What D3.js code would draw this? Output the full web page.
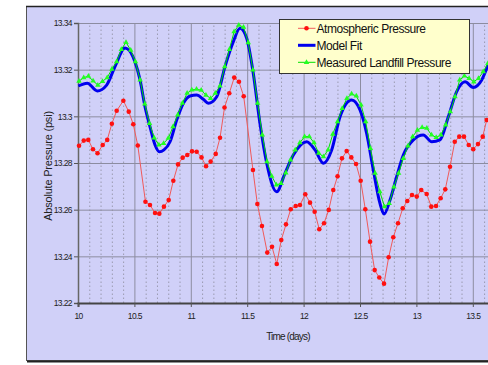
<!DOCTYPE html>
<html>
<head>
<meta charset="utf-8">
<script src="https://cdn.jsdelivr.net/npm/d3@7"></script>
<style>
  html, body { margin: 0; padding: 0; background: #fff; }
  svg { display: block; font-family: Arial, 'Liberation Sans', sans-serif; }
</style>
</head>
<body>
<div id="container"></div>
<script>
// Atmospheric pressure (red), time in days
const atmTime = [10.009, 10.051, 10.091, 10.133, 10.173, 10.219, 10.259, 10.300, 10.343, 10.402, 10.450, 10.490,
  10.530, 10.598, 10.638, 10.683, 10.721, 10.762, 10.804, 10.845, 10.887, 10.928, 10.969, 11.011, 11.052, 11.095,
  11.135, 11.176, 11.221, 11.259, 11.299, 11.341, 11.385, 11.427, 11.469, 11.551, 11.590, 11.631, 11.678, 11.720,
  11.762, 11.802, 11.844, 11.886, 11.930, 11.968, 12.015, 12.057, 12.098, 12.139, 12.181, 12.223, 12.263, 12.301,
  12.340, 12.382, 12.423, 12.465, 12.506, 12.547, 12.589, 12.630, 12.671, 12.713, 12.754, 12.795, 12.837, 12.879,
  12.919, 12.961, 13.003, 13.043, 13.091, 13.132, 13.174, 13.215, 13.256, 13.298, 13.340, 13.380, 13.422, 13.464,
  13.504, 13.546, 13.588, 13.623];
const atmPressure = [13.2874, 13.2896, 13.2899, 13.2859, 13.2842, 13.2877, 13.2899, 13.2968, 13.3024, 13.3067,
  13.3020, 13.2966, 13.2875, 13.2634, 13.2620, 13.2586, 13.2583, 13.2613, 13.2641, 13.2724, 13.2794, 13.2823,
  13.2834, 13.2850, 13.2848, 13.2824, 13.2786, 13.2806, 13.2839, 13.2908, 13.3038, 13.3099, 13.3166, 13.3148,
  13.3086, 13.2770, 13.2624, 13.2530, 13.2416, 13.2441, 13.2367, 13.2470, 13.2537, 13.2602, 13.2616, 13.2620,
  13.2666, 13.2630, 13.2591, 13.2516, 13.2542, 13.2599, 13.2684, 13.2743, 13.2820, 13.2851, 13.2824, 13.2796,
  13.2724, 13.2602, 13.2463, 13.2341, 13.2309, 13.2283, 13.2396, 13.2482, 13.2542, 13.2606, 13.2637, 13.2663,
  13.2656, 13.2684, 13.2667, 13.2613, 13.2616, 13.2649, 13.2687, 13.2784, 13.2891, 13.2913, 13.2913, 13.2877,
  13.2859, 13.2881, 13.2913, 13.2984];

// Model fit (blue)
const fitTime = [10.003, 10.082, 10.171, 10.254, 10.328, 10.417, 10.505, 10.550, 10.594, 10.638, 10.683, 10.721,
  10.762, 10.816, 10.875, 10.934, 10.993, 11.052, 11.111, 11.155, 11.230, 11.303, 11.377, 11.436, 11.496, 11.554,
  11.613, 11.673, 11.762, 11.835, 11.909, 12.027, 12.101, 12.175, 12.249, 12.323, 12.426, 12.500, 12.559, 12.618,
  12.677, 12.713, 12.766, 12.825, 12.884, 12.973, 13.061, 13.136, 13.209, 13.283, 13.357, 13.431, 13.504, 13.579,
  13.635];
const fitPressure = [13.3130, 13.3142, 13.3109, 13.3134, 13.3213, 13.3293, 13.3234, 13.3156, 13.3041, 13.2956,
  13.2877, 13.2848, 13.2856, 13.2891, 13.2984, 13.3056, 13.3087, 13.3091, 13.3073, 13.3056, 13.3084, 13.3213,
  13.3320, 13.3377, 13.3334, 13.3184, 13.2970, 13.2799, 13.2677, 13.2756, 13.2834, 13.2891, 13.2856, 13.2799,
  13.2856, 13.2998, 13.3070, 13.3027, 13.2927, 13.2770, 13.2627, 13.2581, 13.2641, 13.2741, 13.2834, 13.2899,
  13.2920, 13.2891, 13.2899, 13.2998, 13.3106, 13.3148, 13.3124, 13.3156, 13.3220];

// Measured landfill pressure (green), hourly readings from day 10.009
const landfillStart = 10.009;
const landfillPressure = [13.3151, 13.3166, 13.3172, 13.3152, 13.3134, 13.3150, 13.3166, 13.3202, 13.3234, 13.3287,
  13.3317, 13.3284, 13.3234, 13.3156, 13.3053, 13.2970, 13.2908, 13.2877, 13.2884, 13.2906, 13.2956, 13.3006,
  13.3056, 13.3099, 13.3113, 13.3116, 13.3112, 13.3091, 13.3077, 13.3099, 13.3130, 13.3213, 13.3287, 13.3363,
  13.3391, 13.3382, 13.3316, 13.3199, 13.3056, 13.2920, 13.2806, 13.2744, 13.2706, 13.2713, 13.2758, 13.2813,
  13.2856, 13.2887, 13.2913, 13.2913, 13.2887, 13.2842, 13.2827, 13.2856, 13.2924, 13.2977, 13.3034, 13.3077,
  13.3096, 13.3087, 13.3049, 13.2977, 13.2863, 13.2756, 13.2677, 13.2613, 13.2627, 13.2698, 13.2756, 13.2820,
  13.2873, 13.2913, 13.2941, 13.2953, 13.2949, 13.2920, 13.2910, 13.2920, 13.2963, 13.3020, 13.3084, 13.3156,
  13.3173, 13.3163, 13.3148, 13.3163, 13.3191, 13.3227];

const xGrid = [10, 10.5, 11, 11.5, 12, 12.5, 13, 13.5, 14];
const xTicks = [10, 10.5, 11, 11.5, 12, 12.5, 13, 13.5];
const yTicks = [13.22, 13.24, 13.26, 13.28, 13.3, 13.32, 13.34];
const seriesNames = ['Atmospheric Pressure', 'Model Fit', 'Measured Landfill Pressure'];

const width = 488;
const height = 365;
const plotLeft = 78;
const plotTop = 23;
const plotBottom = 303;
const plotRight = 488;

const svg = d3.select('#container')
  .append('svg')
  .attr('width', width)
  .attr('height', height);

// chart frame
svg.append('rect')
  .attr('x', 26.5).attr('y', 6.5)
  .attr('width', 520).attr('height', 354)
  .attr('fill', '#d0d0f8')
  .attr('stroke', '#555')
  .attr('stroke-width', 1);
svg.append('line')
  .attr('x1', 26).attr('x2', width)
  .attr('y1', 6.5).attr('y2', 6.5)
  .attr('stroke', '#222').attr('stroke-width', 1.5);
svg.append('line')
  .attr('x1', 27).attr('x2', width)
  .attr('y1', 361.5).attr('y2', 361.5)
  .attr('stroke', '#222').attr('stroke-width', 2);

const xScale = d3.scaleLinear().domain([10, 14]).range([plotLeft, plotLeft + 4 * 112.8]);
const yScale = d3.scaleLinear().domain([13.22, 13.34]).range([plotBottom, plotTop]);

// minor vertical grid (dotted)
const xMinor = d3.range(101, 140).filter((d) => d % 5 !== 0).map((d) => d / 10);
svg.append('g')
  .attr('transform', `translate(0,${plotBottom})`)
  .call(d3.axisBottom(xScale).tickValues(xMinor).tickSize(-(plotBottom - plotTop)).tickFormat(''))
  .call((g) => g.select('.domain').remove())
  .selectAll('line')
  .attr('stroke', '#9a9ab0')
  .attr('stroke-dasharray', '1.5,2.5');

// major vertical grid
svg.append('g')
  .attr('transform', `translate(0,${plotBottom})`)
  .call(d3.axisBottom(xScale).tickValues(xGrid).tickSize(-(plotBottom - plotTop)).tickFormat(''))
  .call((g) => g.select('.domain').remove())
  .selectAll('line')
  .attr('stroke', '#8c8ca0');

// horizontal grid
svg.append('g')
  .attr('transform', `translate(${plotLeft},0)`)
  .call(d3.axisLeft(yScale).tickValues(yTicks).tickSize(-(plotRight - plotLeft)).tickFormat(''))
  .call((g) => g.select('.domain').remove())
  .selectAll('line')
  .attr('stroke', '#8c8ca0');

// y axis
const yAxis = svg.append('g')
  .attr('transform', `translate(${plotLeft},0)`)
  .call(d3.axisLeft(yScale).tickValues(yTicks).tickSize(4).tickPadding(2)
    .tickFormat((d) => String(+d.toFixed(2))));
yAxis.select('.domain').attr('stroke', '#666').attr('stroke-width', 1.5);
yAxis.selectAll('line').attr('stroke', '#555');
yAxis.selectAll('text')
  .attr('font-size', 8.5).attr('letter-spacing', -0.6).attr('fill', '#222');

// x axis
const xAxis = svg.append('g')
  .attr('transform', `translate(0,${plotBottom})`)
  .call(d3.axisBottom(xScale).tickValues(xTicks).tickSize(4).tickPadding(6).tickFormat((d) => String(d)));
xAxis.select('.domain').attr('stroke', '#444').attr('stroke-width', 2);
xAxis.selectAll('line').attr('stroke', '#555');
xAxis.selectAll('text')
  .attr('font-size', 8.5).attr('letter-spacing', -0.6).attr('fill', '#222');

// axis titles
svg.append('text')
  .attr('transform', 'translate(48,166) rotate(-90)')
  .attr('text-anchor', 'middle')
  .attr('dominant-baseline', 'central')
  .attr('font-size', 11).attr('letter-spacing', -0.2).attr('fill', '#222')
  .text('Absolute Pressure (psi)');
svg.append('text')
  .attr('x', 288).attr('y', 339.5)
  .attr('text-anchor', 'middle')
  .attr('font-size', 10).attr('letter-spacing', -0.8).attr('fill', '#222')
  .text('Time (days)');

// clip
svg.append('defs')
  .append('clipPath')
  .attr('id', 'clip')
  .append('rect')
  .attr('x', plotLeft - 4).attr('y', plotTop - 6)
  .attr('width', plotRight - plotLeft + 4).attr('height', plotBottom - plotTop + 10);

const plot = svg.append('g').attr('clip-path', 'url(#clip)');

// atmospheric pressure
const atmData = atmTime.map((t, i) => [t, atmPressure[i]]);
plot.append('path')
  .datum(atmData)
  .attr('fill', 'none')
  .attr('stroke', '#f05a5a')
  .attr('stroke-width', 1)
  .attr('d', d3.line().x((d) => xScale(d[0])).y((d) => yScale(d[1])));
plot.selectAll('.atm-dot')
  .data(atmData)
  .enter()
  .append('circle')
  .attr('class', 'atm-dot')
  .attr('cx', (d) => xScale(d[0]))
  .attr('cy', (d) => yScale(d[1]))
  .attr('r', 2.3)
  .attr('fill', '#ff1010');

// model fit
const fitData = fitTime.map((t, i) => [t, fitPressure[i]]);
plot.append('path')
  .datum(fitData)
  .attr('fill', 'none')
  .attr('stroke', '#0000ee')
  .attr('stroke-width', 3)
  .attr('d', d3.line().x((d) => xScale(d[0])).y((d) => yScale(d[1])).curve(d3.curveMonotoneX));

// measured landfill pressure
const landfillData = landfillPressure.map((p, i) => [landfillStart + i / 24, p]);
plot.append('path')
  .datum(landfillData)
  .attr('fill', 'none')
  .attr('stroke', '#00e000')
  .attr('stroke-width', 1)
  .attr('d', d3.line().x((d) => xScale(d[0])).y((d) => yScale(d[1])));
const triangle = d3.symbol(d3.symbolTriangle, 13);
plot.selectAll('.landfill-mark')
  .data(landfillData)
  .enter()
  .append('path')
  .attr('class', 'landfill-mark')
  .attr('transform', (d) => `translate(${xScale(d[0])},${yScale(d[1])})`)
  .attr('d', triangle)
  .attr('fill', '#22ff22');

// legend
const legend = svg.append('g').attr('transform', 'translate(279.5,19.5)');
legend.append('rect')
  .attr('width', 190).attr('height', 54)
  .attr('fill', '#ffffcc')
  .attr('stroke', '#333');
const legendRows = [8.8, 25.8, 42.8];
const legendItem = legend.selectAll('.legend-item')
  .data(seriesNames)
  .enter()
  .append('g')
  .attr('class', 'legend-item')
  .attr('transform', (_, i) => `translate(0,${legendRows[i]})`);
legendItem.append('line')
  .attr('x1', 18.5).attr('x2', 36)
  .attr('stroke', (_, i) => ['#f05a5a', '#0000ee', '#00e000'][i])
  .attr('stroke-width', (_, i) => (i === 1 ? 3 : 1));
legendItem.filter((_, i) => i === 0)
  .append('circle')
  .attr('cx', 27).attr('r', 2.3).attr('fill', '#ff1010');
legendItem.filter((_, i) => i === 2)
  .append('path')
  .attr('transform', 'translate(27,0)')
  .attr('d', triangle)
  .attr('fill', '#22ff22');
legendItem.append('text')
  .attr('x', 37)
  .attr('dy', '0.36em')
  .attr('font-size', 12)
  .attr('letter-spacing', -0.45)
  .attr('fill', '#111')
  .text((d) => d);
</script>
</body>
</html>
